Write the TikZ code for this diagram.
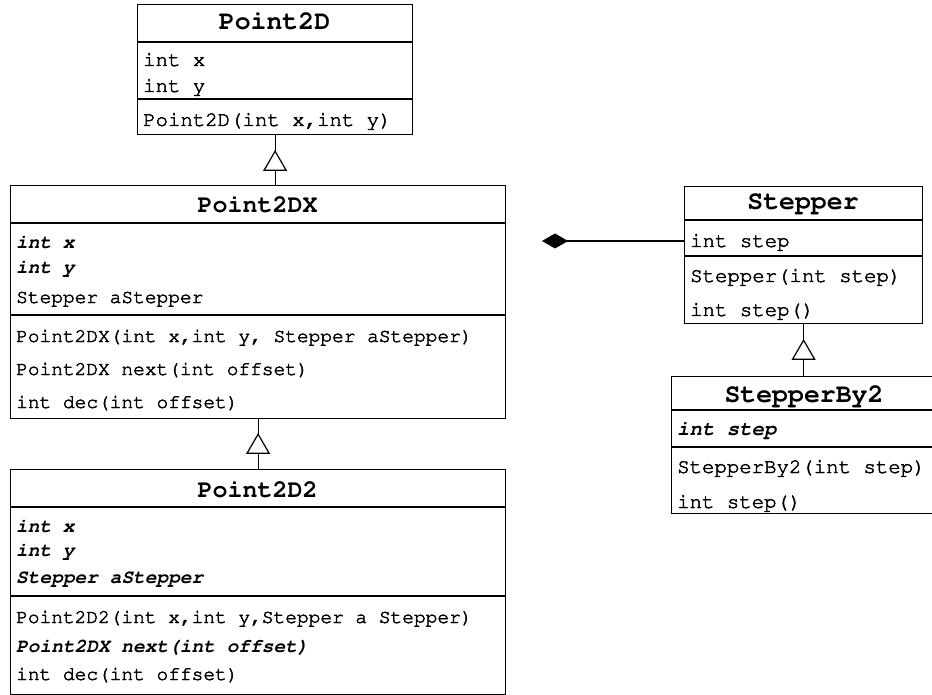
\documentclass[tikz,border=0pt]{standalone}
\usepackage[T1]{fontenc}
\renewcommand{\ttdefault}{pcr}
\usetikzlibrary{arrows.meta,calc}
\newcommand{\heavytxt}[1]{\special{pdf:code 2 Tr 0.45 w}#1\special{pdf:code 0 Tr}}
\tikzset{
  cls/.style={draw, line width=1.2pt, inner sep=0pt, anchor=north west, fill=white},
  hd/.style={anchor=base, inner sep=0pt, font=\fontsize{#1}{#1}\selectfont\ttfamily\bfseries},
  hd/.default=25,
  tx/.style={anchor=base west, inner sep=0pt, font=\fontsize{#1}{20}\selectfont\ttfamily},
  tx/.default=19.5,
  itx/.style={anchor=base west, inner sep=0pt, font=\fontsize{#1}{20}\selectfont\ttfamily\bfseries\slshape},
  itx/.default=19.5,
  dv/.style={line width=1.2pt},
  gen/.style={line width=1.2pt},
  tri/.style={line width=1.2pt, fill=white, line join=miter},
}
\begin{document}
\begin{tikzpicture}[x=1pt,y=-1pt]
\useasboundingbox (0,0) rectangle (932,695);
\clip (0,0) rectangle (932,695);

% ---------- Point2D ----------
\node[cls, minimum width=275pt, minimum height=130pt] (p2d) at (137,4) {};
\draw[dv] (137,42) -- (412,42);
\draw[dv] (137,99) -- (412,99);
\node[hd=26.5] (p2dh) at (274.5,30) {Point2D};
\node[tx=20.7] (p2da1) at (143,66) {\heavytxt{int x}};
\node[tx=20.7] (p2da2) at (143,92) {\heavytxt{int y}};
\node[tx=20.7] (p2dm1) at (143,126) {\heavytxt{Point2D(int x,int y)}};

% ---------- Point2DX ----------
\node[cls, minimum width=495pt, minimum height=233pt] (p2dx) at (10,185) {};
\draw[dv] (10,223) -- (505,223);
\draw[dv] (10,315) -- (505,315);
\node[hd] (p2dxh) at (257.5,213) {Point2DX};
\node[itx] (p2dxa1) at (16,248) {int x};
\node[itx] (p2dxa2) at (16,273) {int y};
\node[tx] (p2dxa3) at (16,303) {\heavytxt{Stepper aStepper}};
\node[tx] (p2dxm1) at (16,342) {\heavytxt{Point2DX(int x,int y, Stepper aStepper)}};
\node[tx] (p2dxm2) at (16,375) {\heavytxt{Point2DX next(int offset)}};
\node[tx] (p2dxm3) at (16,408) {\heavytxt{int dec(int offset)}};

% ---------- Point2D2 ----------
\node[cls, minimum width=495pt, minimum height=225pt] (p2d2) at (10,469) {};
\draw[dv] (10,507) -- (505,507);
\draw[dv] (10,596) -- (505,596);
\node[hd] (p2d2h) at (257.5,497) {Point2D2};
\node[itx] (p2d2a1) at (16,532) {int x};
\node[itx] (p2d2a2) at (16,556) {int y};
\node[itx] (p2d2a3) at (16,583) {Stepper aStepper};
\node[tx] (p2d2m1) at (16,623) {\heavytxt{Point2D2(int x,int y,Stepper a Stepper)}};
\node[itx] (p2d2m2) at (16,652) {Point2DX next(int offset)};
\node[tx] (p2d2m3) at (16,680) {\heavytxt{int dec(int offset)}};

% ---------- Stepper ----------
\node[cls, minimum width=238pt, minimum height=137pt] (stp) at (684,186) {};
\draw[dv] (684,220) -- (922,220);
\draw[dv] (684,256) -- (922,256);
\node[hd=26.5] (stph) at (803,210) {Stepper};
\node[tx=20.7] (stpa1) at (690,247) {\heavytxt{int step}};
\node[tx=20.7] (stpm1) at (690,282) {\heavytxt{Stepper(int step)}};
\node[tx=20.7] (stpm2) at (690,316) {\heavytxt{int step()}};

% ---------- StepperBy2 ----------
\node[cls, minimum width=266pt, minimum height=137pt] (stp2) at (671,376) {};
\draw[dv] (671,410) -- (937,410);
\draw[dv] (671,447) -- (937,447);
\node[hd=26.5] (stp2h) at (804,402) {StepperBy2};
\node[itx=20.7] (stp2a1) at (677,435) {int step};
\node[tx=20.7] (stp2m1) at (677,473) {\heavytxt{StepperBy2(int step)}};
\node[tx=20.7] (stp2m2) at (677,508) {\heavytxt{int step()}};

% ---------- generalizations ----------
\draw[gen] (p2d.south) -- (p2d.south |- p2dx.north);
\draw[tri] ($(p2d.south)+(0,16)$) -- ++(-11,19) -- ++(22,0) -- cycle;

\draw[gen] (p2dx.south) -- (p2dx.south |- p2d2.north);
\draw[tri] ($(p2dx.south)+(0,15)$) -- ++(-11,19) -- ++(22,0) -- cycle;

\draw[gen] (stp.south) -- (stp.south |- stp2.north);
\draw[tri] ($(stp.south)+(0,16)$) -- ++(-11,19) -- ++(22,0) -- cycle;

% ---------- composition ----------
\coordinate (dia) at (542,241);
\draw[gen, -{Diamond[length=26pt,width=15pt]}] (stp.west |- dia) -- (dia);
\end{tikzpicture}
\end{document}
